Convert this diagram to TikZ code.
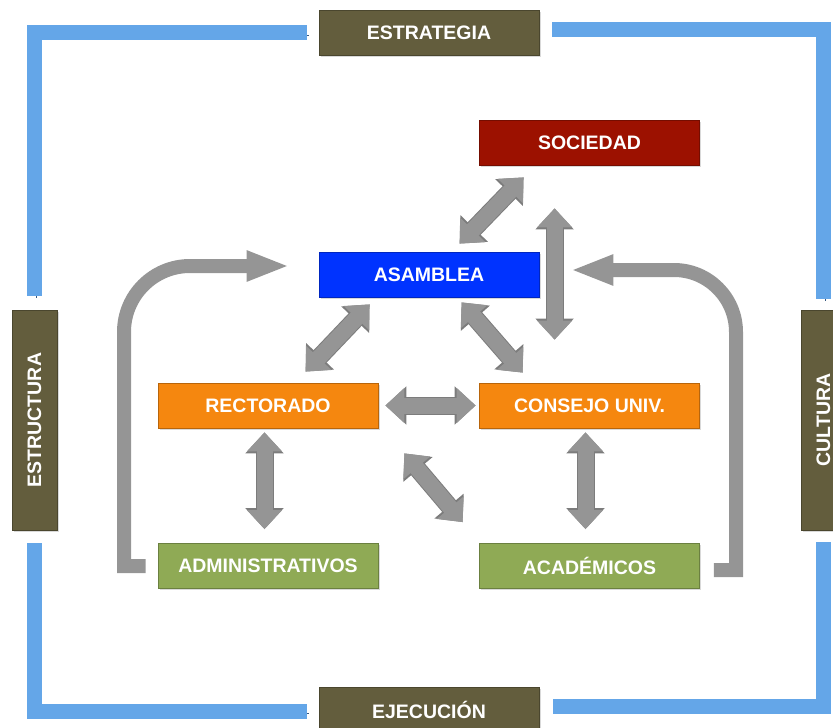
\documentclass[tikz,border=0pt]{standalone}
\usepackage{fontspec}
\setmainfont{Liberation Sans}
\usepackage{graphicx}
\usetikzlibrary{calc,arrows.meta,shadows}
\definecolor{marco}{HTML}{64A6E8}
\definecolor{marcosombra}{HTML}{34567F}
\definecolor{etiqueta}{HTML}{635D3D}
\definecolor{rojo}{HTML}{9C1100}
\definecolor{azulfuerte}{HTML}{0033FF}
\definecolor{naranja}{HTML}{F5870F}
\definecolor{verde}{HTML}{8FAA55}
\definecolor{flecha}{HTML}{959595}
\definecolor{flechaborde}{HTML}{7C7C7C}

\begin{document}
\begin{tikzpicture}[x=1pt,y=-1pt,
    caja/.style={fill=#1, draw=#1!75!black, line width=0.8pt, minimum width=220pt, minimum height=45pt, inner sep=0pt, text=white, font=\bfseries\fontsize{19.5}{22}\selectfont, drop shadow={shadow xshift=1.5pt, shadow yshift=-1.5pt, opacity=0.3}},
    etiq/.style={caja=etiqueta},
    barra/.style={line width=15pt, draw=marco, line join=miter, preaction={draw=marcosombra, transform canvas={shift={(2,2.5)}}}},
    dbl/.style={line width=16pt, draw=flecha, {Triangle[length=19pt,width=34pt]}-{Triangle[length=19pt,width=34pt]}, preaction={draw=flechaborde, line width=18pt, {Triangle[length=21pt,width=37pt]}-{Triangle[length=21pt,width=37pt]}}},
    curva/.style={line width=14pt, draw=flecha, line join=miter, -{Triangle[length=43pt,width=28pt]}}]
  \useasboundingbox (0,0) rectangle (833,728);
  \clip (0,0) rectangle (833,728);
  % marco exterior
  \node[etiq] (estr) at (429,32.5) {ESTRATEGIA};
  \node[etiq] (ejec) at (429,710) {EJECUCIÓN};
  \node[etiq, minimum width=45pt, minimum height=220pt] (estru) at (34.5,420) {\rotatebox{90}{ESTRUCTURA}};
  \node[etiq, minimum width=45pt, minimum height=220pt] (cult) at (823.5,420) {\rotatebox{90}{CULTURA}};
  \draw[barra] ($(estr.west)+(-12,0)$) -| ($(estru.north)+(0,-14)$);
  \draw[barra] ($(estr.east)+(13,-3)$) -| ($(cult.north)+(0,-11)$);
  \draw[barra] ($(estru.south)+(0,13)$) |- ($(ejec.west)+(-12,1)$);
  \draw[barra] ($(cult.south)+(0,12)$) |- ($(ejec.east)+(14,-4)$);
  % organos
  \node[caja=rojo] (soc) at (589.5,143) {SOCIEDAD};
  \node[caja=azulfuerte] (asam) at (429,274.5) {ASAMBLEA};
  \node[caja=naranja] (rect) at (268,405.5) {RECTORADO};
  \node[caja=naranja] (cons) at (589.5,405.5) {CONSEJO UNIV.};
  \node[caja=verde] (admin) at (268,566) {ADMINISTRATIVOS};
  \node[caja=verde] (acad) at (589.5,566) {ACADÉMICOS};
  % flechas dobles
  \draw[dbl] ($(soc.south west)+(44.5,11.5)$) -- ($(asam.north west)+(141,-8)$);
  \draw[dbl] ($(soc.south west)+(75.5,42.5)$) -- ($(cons.north west)+(75.5,-43)$);
  \draw[dbl] ($(asam.south west)+(51,7)$) -- ($(rect.north west)+(148,-11)$);
  \draw[dbl] ($(asam.south west)+(143,5)$) -- ($(cons.north west)+(43.5,-10)$);
  \draw[dbl] ($(rect.east)+(7,0)$) -- ($(cons.west)+(-3.5,0)$);
  \draw[dbl] ($(rect.south)+(-3.5,4)$) -- ($(admin.north)+(-3.5,-14)$);
  \draw[dbl] ($(cons.south)+(-4,4)$) -- ($(acad.north)+(-4,-14)$);
  \draw[dbl] ($(rect.south east)+(26,25)$) -- ($(acad.north west)+(-16.5,-21)$);
  % retorno a la asamblea
  \draw[curva] ($(admin.west)+(-12,0)$) -- (124,566) -- (124,332) .. controls (124,295.5) and (153.5,266) .. (190,266) -- ($(asam.west)+(-29,-8.5)$);
  \draw[curva] ($(acad.east)+(14,4)$) -- (736,570) -- (736,332) .. controls (736,297.8) and (708.2,270) .. (674,270) -- ($(asam.east)+(31,-4.5)$);
\end{tikzpicture}
\end{document}
